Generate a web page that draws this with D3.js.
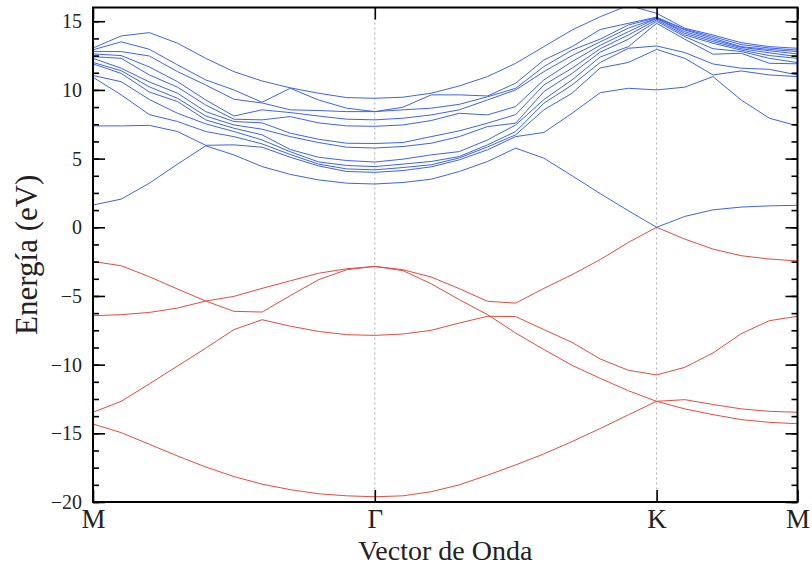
<!DOCTYPE html>
<html>
<head>
<meta charset="utf-8">
<script src="https://cdn.jsdelivr.net/npm/d3@7"></script>
<style>
  body { margin: 0; background: #fff; }
  text { font-family: "Liberation Serif", "DejaVu Serif", serif; fill: #222; }
</style>
</head>
<body>
<div id="chart"></div>
<script>
// k-path labels and their k-point index
const kLabels = ['M', 'Γ', 'K', 'M']
const kLabelIndex = [0, 10, 20, 25]
const energyTicks = [-20, -15, -10, -5, 0, 5, 10, 15]

// valence bands (red), one value per k-point (26 points M-Γ-K-M)
const valence1 = [-2.49, -2.8, -3.6, -4.5, -5.37, -5.03, -4.45, -3.9, -3.35, -3.02, -2.85,
  -3.09, -3.62, -4.47, -5.39, -5.52, -4.45, -3.45, -2.35, -1.1, 0,
  -0.86, -1.59, -2.07, -2.31, -2.45]
const valence2 = [-6.44, -6.36, -6.2, -5.88, -5.37, -6.12, -6.17, -4.98, -3.82, -3.09, -2.85,
  -3.16, -4.11, -5.27, -6.36, -7.7, -8.9, -10.05, -11.0, -11.9, -12.67,
  -12.55, -12.9, -13.22, -13.4, -13.47]
const valence3 = [-13.47, -12.67, -11.4, -10.1, -8.8, -7.45, -6.73, -7.2, -7.58, -7.82, -7.87,
  -7.77, -7.5, -6.97, -6.48, -6.5, -7.45, -8.38, -9.59, -10.41, -10.75,
  -10.2, -9.15, -7.75, -6.8, -6.48]
const valence4 = [-14.32, -14.95, -15.8, -16.65, -17.45, -18.15, -18.7, -19.1, -19.4, -19.55, -19.62,
  -19.55, -19.25, -18.75, -18.05, -17.3, -16.5, -15.6, -14.65, -13.65, -12.67,
  -13.22, -13.64, -14.0, -14.2, -14.3]

// conduction bands (blue): energies at each k-point, lowest first
const conductionByK = [
  [1.62, 7.38, 10.92, 11.05, 11.9, 12.0, 12.3, 12.42, 12.62, 12.79, 12.92, 13.05],
  [2.05, 7.38, 9.64, 10.6, 11.2, 11.4, 11.58, 12.3, 12.5, 12.79, 13.5, 13.93],
  [3.21, 7.42, 8.2, 9.3, 9.85, 10.22, 10.58, 11.09, 11.67, 12.47, 12.96, 14.17],
  [4.6, 6.97, 7.7, 8.3, 9.15, 9.39, 9.76, 10.2, 10.6, 11.33, 11.82, 13.4],
  [5.93, 5.97, 6.97, 7.53, 7.82, 8.1, 8.42, 8.9, 9.27, 10.36, 10.73, 12.3],
  [5.27, 6.0, 6.6, 6.97, 7.21, 7.45, 7.7, 7.87, 8.1, 9.32, 10.0, 11.33],
  [4.42, 5.83, 6.07, 6.36, 6.73, 7.14, 7.6, 7.82, 8.55, 9.05, 9.1, 10.65],
  [3.85, 5.1, 5.3, 5.5, 5.66, 6.6, 6.85, 8.06, 8.35, 8.55, 10.12, 10.15],
  [3.45, 4.47, 4.6, 4.76, 5.1, 6.17, 6.41, 7.6, 8.1, 8.5, 9.27, 9.76],
  [3.21, 4.06, 4.25, 4.5, 4.86, 5.83, 6.12, 7.38, 7.87, 8.42, 8.67, 9.44],
  [3.15, 4.0, 4.18, 4.42, 4.75, 5.77, 6.1, 7.35, 7.82, 8.42, 8.42, 9.39],
  [3.26, 4.13, 4.35, 4.6, 4.96, 5.88, 6.17, 7.45, 7.94, 8.55, 8.74, 9.47],
  [3.5, 4.4, 4.55, 4.79, 5.27, 6.12, 6.6, 7.77, 8.18, 8.67, 9.64, 9.76],
  [4.06, 4.91, 5.05, 5.15, 5.51, 6.6, 7.02, 8.3, 8.55, 8.95, 9.64, 10.29],
  [4.79, 5.64, 5.85, 6.0, 6.36, 7.33, 7.58, 8.18, 9.27, 9.5, 9.56, 10.97],
  [5.76, 6.6, 6.73, 6.97, 7.45, 7.58, 8.2, 8.79, 10.0, 10.12, 10.49, 11.94],
  [5.03, 6.9, 8.55, 9.03, 9.3, 9.88, 10.36, 10.73, 11.33, 11.7, 12.18, 13.15],
  [3.75, 8.3, 9.76, 10.36, 10.73, 11.2, 11.58, 12.06, 12.5, 12.9, 13.15, 14.36],
  [2.45, 9.8, 11.6, 12.0, 12.4, 12.75, 13.0, 13.25, 13.5, 13.7, 14.4, 15.33],
  [1.2, 10.12, 12.0, 13.03, 13.15, 13.69, 14.0, 14.24, 14.5, 14.73, 14.85, 16.15],
  [0, 10.0, 12.95, 13.2, 14.85, 15.0, 15.1, 15.2, 15.2, 15.25, 15.3, 15.58],
  [0.79, 10.2, 12.3, 12.72, 13.69, 13.88, 14.0, 14.12, 14.24, 14.36, 14.42, 14.49],
  [1.27, 10.97, 11.09, 11.89, 12.6, 13.0, 13.4, 13.52, 13.64, 13.76, 13.88, 14.0],
  [1.47, 9.27, 11.38, 11.58, 12.67, 12.8, 12.9, 13.0, 13.1, 13.15, 13.3, 13.44],
  [1.56, 7.94, 11.09, 11.5, 11.94, 12.3, 12.5, 12.7, 12.85, 12.95, 13.05, 13.15],
  [1.6, 7.38, 10.97, 11.09, 11.9, 11.99, 12.3, 12.42, 12.62, 12.79, 12.9, 13.03]
]

function draw () {

  const dimensions = {
    width: 812,
    height: 567,
    margin: { left: 93, right: 14.5, top: 7.5, bottom: 65 }
  }
  dimensions.ctrRight = dimensions.width - dimensions.margin.right
  dimensions.ctrBottom = dimensions.height - dimensions.margin.bottom

  const valence = [valence1, valence2, valence3, valence4]
  const conduction = d3.transpose(conductionByK)

  const xScale = d3.scaleLinear()
    .domain([0, valence1.length - 1])
    .range([dimensions.margin.left, dimensions.ctrRight])
  const yScale = d3.scaleLinear()
    .domain([-20, 16])
    .range([dimensions.ctrBottom, dimensions.margin.top])

  const svg = d3.select('#chart')
    .append('svg')
    .attr('width', dimensions.width)
    .attr('height', dimensions.height)

  svg.append('clipPath').attr('id', 'clip')
    .append('rect')
    .attr('x', dimensions.margin.left)
    .attr('y', dimensions.margin.top)
    .attr('width', dimensions.ctrRight - dimensions.margin.left)
    .attr('height', dimensions.ctrBottom - dimensions.margin.top)

  // dotted lines at high-symmetry points
  svg.append('g')
    .selectAll('line')
    .data(kLabelIndex.slice(1, 3))
    .join('line')
    .attr('x1', d => xScale(d)).attr('x2', d => xScale(d))
    .attr('y1', dimensions.margin.top).attr('y2', dimensions.ctrBottom)
    .attr('stroke', '#aaa')
    .attr('stroke-width', 1)
    .attr('stroke-dasharray', '2,3')

  const line = d3.line()
    .x((d, i) => xScale(i))
    .y(d => yScale(d))

  const bands = svg.append('g').attr('clip-path', 'url(#clip)')
  bands.selectAll('path.val')
    .data(valence)
    .join('path')
    .attr('class', 'val')
    .attr('d', line)
    .attr('fill', 'none')
    .attr('stroke', '#e8493e')
    .attr('stroke-width', 1)
  bands.selectAll('path.cond')
    .data(conduction)
    .join('path')
    .attr('class', 'cond')
    .attr('d', line)
    .attr('fill', 'none')
    .attr('stroke', '#3d62ec')
    .attr('stroke-width', 1)

  // axes: ticks point inwards
  const minorTicks = d3.range(-20, 16.01, 1.25)
  const styleAxis = g => {
    g.select('.domain').remove()
    g.selectAll('.tick line').attr('stroke', '#000').attr('stroke-width', 1.6)
  }

  svg.append('g')
    .attr('transform', `translate(${dimensions.margin.left},0)`)
    .call(d3.axisLeft(yScale).tickValues(minorTicks).tickSize(-6).tickFormat(''))
    .call(styleAxis)
  svg.append('g')
    .attr('transform', `translate(${dimensions.ctrRight},0)`)
    .call(d3.axisRight(yScale).tickValues(minorTicks).tickSize(-6).tickFormat(''))
    .call(styleAxis)

  const yAxis = svg.append('g')
    .attr('transform', `translate(${dimensions.margin.left},0)`)
    .call(d3.axisLeft(yScale).tickValues(energyTicks).tickSizeInner(-12).tickPadding(11).tickFormat(d3.format('d')))
    .call(styleAxis)
  yAxis.selectAll('.tick text')
    .style('font-family', '"Liberation Serif", serif')
    .style('font-size', '20px')
    .style('fill', '#222')

  svg.append('g')
    .attr('transform', `translate(${dimensions.ctrRight},0)`)
    .call(d3.axisRight(yScale).tickValues(energyTicks).tickSize(-12).tickFormat(''))
    .call(styleAxis)

  const xAxis = svg.append('g')
    .attr('transform', `translate(0,${dimensions.ctrBottom})`)
    .call(d3.axisBottom(xScale).tickValues(kLabelIndex).tickSizeInner(-12).tickPadding(7)
      .tickFormat((d, i) => kLabels[i]))
    .call(styleAxis)
  xAxis.selectAll('.tick text')
    .style('font-family', '"Liberation Serif", serif')
    .style('font-size', '27px')
    .style('fill', '#222')

  svg.append('g')
    .attr('transform', `translate(0,${dimensions.margin.top})`)
    .call(d3.axisTop(xScale).tickValues(kLabelIndex).tickSize(-12).tickFormat(''))
    .call(styleAxis)

  // frame
  svg.append('rect')
    .attr('x', dimensions.margin.left)
    .attr('y', dimensions.margin.top)
    .attr('width', dimensions.ctrRight - dimensions.margin.left)
    .attr('height', dimensions.ctrBottom - dimensions.margin.top)
    .attr('fill', 'none')
    .attr('stroke', '#000')
    .attr('stroke-width', 2)

  // axis titles
  svg.append('text')
    .attr('x', (dimensions.margin.left + dimensions.ctrRight) / 2)
    .attr('y', 560)
    .attr('text-anchor', 'middle')
    .attr('font-size', 28)
    .text('Vector de Onda')

  svg.append('text')
    .attr('transform', `translate(37,${(dimensions.margin.top + dimensions.ctrBottom) / 2}) rotate(-90)`)
    .attr('text-anchor', 'middle')
    .attr('font-size', 31)
    .text('Energía (eV)')
}

draw()
</script>
</body>
</html>
